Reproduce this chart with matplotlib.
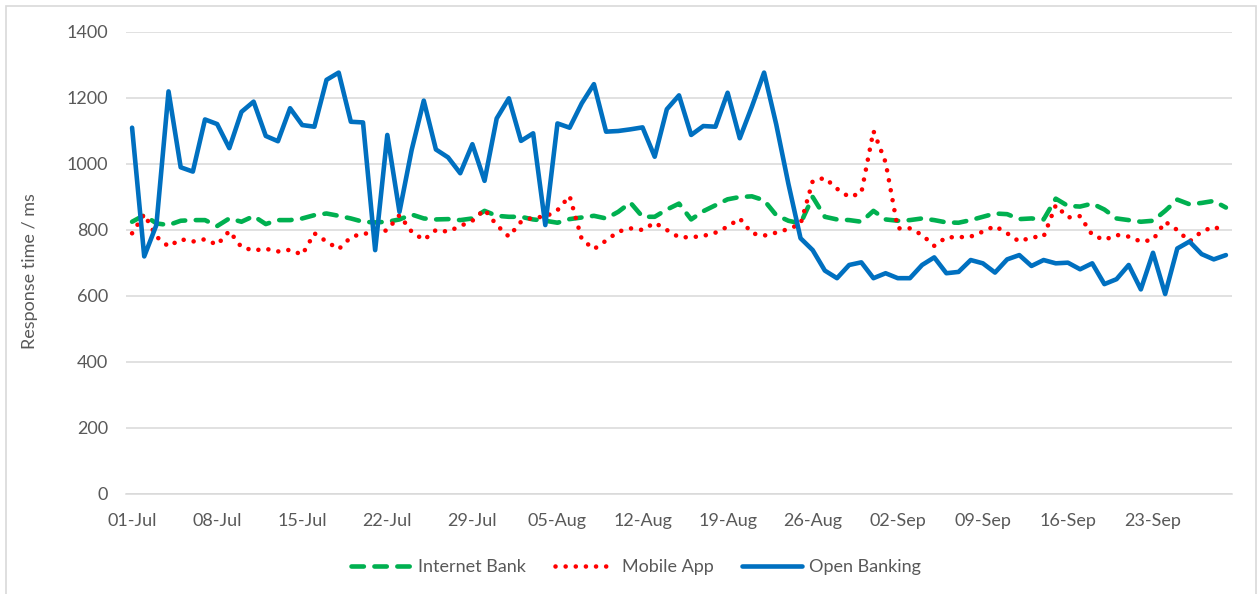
import numpy as np
import pandas as pd
import matplotlib
matplotlib.use("Agg")
import matplotlib.pyplot as plt
from matplotlib.lines import Line2D
from matplotlib.patches import Rectangle

# daily response times (ms), 01-Jul .. 29-Sep
start_date = "2019-07-01"

internet_bank = [
	825, 845, 820, 815, 828, 830, 830, 812, 835, 825,
	842, 818, 830, 830, 835, 845, 850, 843, 835, 825,
	823, 825, 832, 847, 835, 832, 833, 830, 835, 858,
	843, 840, 840, 832, 828, 822, 833, 838, 843, 835,
	855, 883, 840, 840, 862, 880, 832, 857, 875, 893,
	900, 902, 890, 845, 828, 820, 900, 840, 832, 830,
	825, 858, 832, 828, 830, 835, 830, 823, 822, 830,
	840, 850, 848, 833, 835, 832, 895, 873, 871, 880,
	862, 835, 830, 825, 828, 858, 892, 878, 882, 888,
	868,
]

mobile_app = [
	790, 848, 780, 750, 772, 765, 772, 755, 797, 748,
	738, 743, 735, 740, 725, 790, 765, 742, 778, 790,
	787, 800, 845, 795, 770, 800, 795, 812, 828, 862,
	815, 780, 825, 838, 840, 860, 903, 772, 742, 768,
	795, 805, 800, 822, 800, 778, 778, 782, 792, 810,
	835, 790, 783, 792, 803, 818, 948, 958, 925, 900,
	912, 1100, 1005, 805, 805, 785, 752, 778, 778, 780,
	795, 812, 790, 765, 778, 780, 875, 838, 842, 785,
	770, 785, 780, 765, 770, 825, 800, 765, 795, 810,
	795,
]

open_banking = [
	1110, 720, 815, 1220, 990, 977, 1135, 1121, 1048, 1158,
	1189, 1085, 1069, 1169, 1118, 1113, 1255, 1277, 1128, 1126,
	739, 1088, 855, 1042, 1192, 1044, 1020, 972, 1060, 949,
	1138, 1199, 1070, 1093, 815, 1123, 1110, 1184, 1242, 1098,
	1100, 1105, 1111, 1022, 1166, 1208, 1088, 1115, 1113, 1216,
	1078, 1174, 1277, 1120, 940, 775, 739, 677, 654, 694,
	702, 654, 669, 654, 654, 694, 717, 669, 673, 709,
	699, 671, 711, 724, 691, 709, 699, 701, 681, 699,
	636, 651, 694, 620, 731, 606, 744, 765, 727, 711,
	724,
]

series_names = ["Internet Bank", "Mobile App", "Open Banking"]

dates = pd.date_range(start_date, periods=len(open_banking), freq="D")

grey = "#595959"
fs = 13
plt.rcParams['font.family'] = ['Lato', 'DejaVu Sans']
plt.rcParams['font.size'] = fs

fig = plt.figure(figsize=(12.58, 5.94), dpi=100)
ax = fig.add_axes([126 / 1258, 1 - 494 / 594, (1232 - 126) / 1258, (494 - 32) / 594])

lw = 3.3
green = dict(color="#00B050", lw=lw, dashes=(2.7, 2.3), dash_capstyle="round", solid_joinstyle="round")
red = dict(color="#FF0000", lw=lw, dashes=(0.01, 2.2), dash_capstyle="round")
blue = dict(color="#0070C0", lw=lw, solid_joinstyle="round", solid_capstyle="round")

ax.plot(dates, internet_bank, **green)
ax.plot(dates, mobile_app, **red)
ax.plot(dates, open_banking, **blue)

ax.set_ylim(0, 1400)
ax.set_yticks(np.arange(0, 1401, 200))
ax.set_xlim(dates[0] - pd.Timedelta(hours=12), dates[-1] + pd.Timedelta(hours=12))
ax.set_xticks(dates[::7])
ax.set_xticklabels([d.strftime("%d-%b") for d in dates[::7]])

ax.grid(axis="y", color="#d9d9d9", lw=1.1)
ax.set_axisbelow(True)
for s in ["top", "right", "left"]:
	ax.spines[s].set_visible(False)
ax.spines["bottom"].set_color("#d9d9d9")
ax.spines["bottom"].set_linewidth(1.1)
ax.tick_params(axis="both", length=0, colors=grey, labelsize=fs)
ax.tick_params(axis="x", pad=14)
ax.tick_params(axis="y", pad=13)

fig.text(30 / 1258, 1 - 271 / 594, "Response time / ms", rotation=90,
	ha="center", va="center", color=grey, fontsize=fs)

handles = [Line2D([], [], **green), Line2D([], [], **red), Line2D([], [], **blue)]
leg = fig.legend(handles, series_names, loc="center", bbox_to_anchor=(636 / 1258, 1 - 567 / 594),
	ncol=3, frameon=False, handlelength=3.3, handletextpad=0.4, columnspacing=1.6)
for t in leg.get_texts():
	t.set_color(grey)

# chart border
fig.patches.append(Rectangle((6 / 1258, -0.02), 1250 / 1258, 1.02 - 6 / 594,
	transform=fig.transFigure, fill=False, edgecolor="#d9d9d9", lw=1.2))

fig.savefig("out.png", dpi=100)
